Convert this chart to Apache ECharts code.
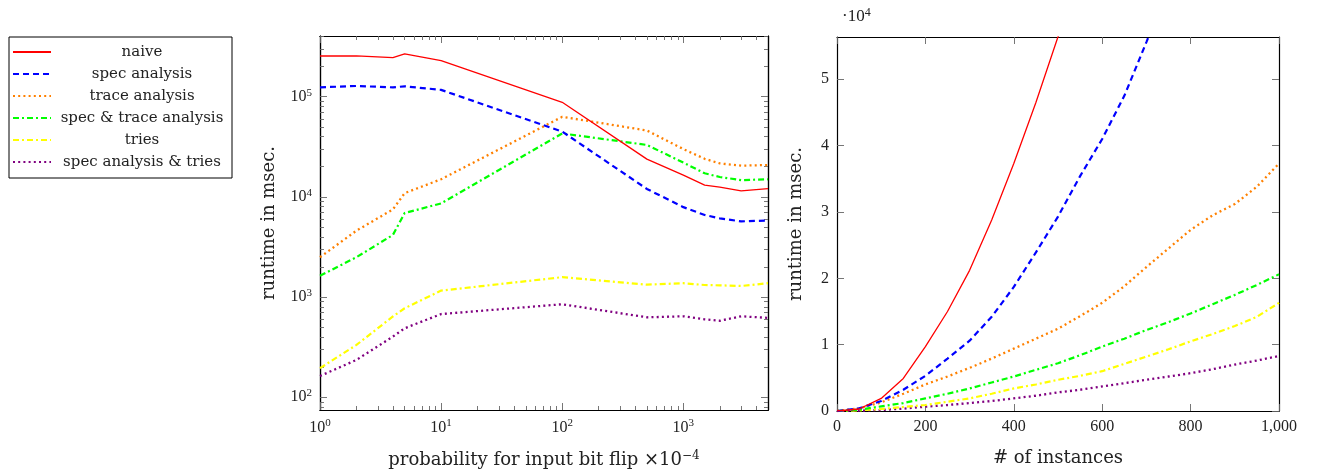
<!DOCTYPE html>
<html><head><meta charset="utf-8">
<script src="https://cdn.jsdelivr.net/npm/echarts@6/dist/echarts.min.js"></script>
<style>html,body{margin:0;padding:0;background:#fff}#c{width:1318px;height:472px}</style>
</head><body><div id="c"></div>
<script>
// ---- data ----
const seriesNames = ['naive', 'spec analysis', 'trace analysis', 'spec & trace analysis', 'tries', 'spec analysis & tries'];

// left chart: runtime vs probability for input bit flip (x 10^-4), log-log
const flipProb       = [1, 2, 4, 5, 10, 100, 500, 1000, 1500, 2000, 3000, 5000];
const flipNaive      = [255000, 256000, 245000, 267000, 229000, 88000, 23800, 16500, 13100, 12500, 11500, 12100];
const flipSpec       = [124000, 128000, 124000, 127000, 117000, 44800, 12000, 7900, 6600, 6100, 5700, 5800];
const flipTrace      = [2500, 4600, 7500, 10900, 15000, 63000, 46000, 30000, 24000, 21600, 20500, 20800];
const flipSpecTrace  = [1630, 2500, 4170, 6900, 8600, 43000, 33000, 22000, 17200, 15800, 14700, 15000];
const flipTries      = [195, 333, 640, 773, 1160, 1580, 1330, 1375, 1320, 1310, 1290, 1375];
const flipSpecTries  = [163, 236, 403, 488, 677, 848, 628, 643, 600, 580, 643, 620];

// right chart: runtime vs number of instances
const instances      = [0, 50, 100, 150, 200, 250, 300, 350, 400, 450, 500, 550, 600, 650, 700, 750, 800, 850, 900, 950, 1000];
const instNaive      = [0, 300, 1900, 4900, 9700, 15000, 21200, 28800, 37300, 46500, 56400, 67000, null, null, null, null, null, null, null, null, null];
const instSpec       = [0, 400, 1500, 3200, 5300, 7900, 10600, 14200, 18700, 23900, 29300, 35400, 41000, 47500, 55600, 64000, null, null, null, null, null];
const instTrace      = [0, 400, 1300, 2600, 4000, 5200, 6500, 7900, 9400, 10900, 12400, 14300, 16300, 18800, 21700, 24500, 27300, 29500, 31200, 33800, 37300];
const instSpecTrace  = [0, 200, 700, 1200, 1900, 2600, 3400, 4300, 5200, 6200, 7200, 8400, 9700, 10900, 12200, 13400, 14700, 16100, 17500, 19000, 20600];
const instTries      = [0, 100, 300, 600, 900, 1400, 1900, 2600, 3400, 4000, 4700, 5300, 6000, 7100, 8200, 9300, 10500, 11600, 12800, 14200, 16300];
const instSpecTries  = [0, 50, 150, 350, 650, 900, 1200, 1500, 1900, 2300, 2800, 3200, 3700, 4200, 4700, 5200, 5700, 6300, 7000, 7600, 8300];

// tick labels
const flipXMajor = [1, 10, 100, 1000];
const flipYMajor = [100, 1000, 10000, 100000];
const instXTicks = [0, 200, 400, 600, 800, 1000];
const instYTicks = [0, 10000, 20000, 30000, 40000, 50000];

// ---- styles ----
const FONT = 'Liberation Serif';
const TFONT = 'DejaVu Serif';
const colors = ['#ff0000', '#0000ff', '#ff8000', '#00ff00', '#ffff00', '#800080'];
const lineTypes = [
  {width: 1.3, type: 'solid'},
  {width: 2.2, type: [6, 4]},
  {width: 2.3, type: [2, 3.2]},
  {width: 2.2, type: [6, 3, 2, 3]},
  {width: 2.2, type: [6, 3, 2, 3]},
  {width: 2.3, type: [2, 3.2]}
];

function minorLog(lo, hi) {
  const out = [];
  for (let d = 1; d <= 1e6; d *= 10) for (let k = 2; k <= 9; k++) {
    const v = k * d; if (v > lo && v < hi) out.push(v);
  }
  return out;
}
const supRich = {s: {fontSize: 11, fontFamily: FONT, color: '#222', padding: [0, 0, 8, 0]}};
function pow10Label(v) { return '10{s|' + Math.round(Math.log10(v)) + '}'; }

const L = {xmin: 1, xmax: 5000, ymin: 74.6, ymax: 403600};
const R = {xmin: 0, xmax: 1000, ymin: 0, ymax: 56370};

const frame = {show: true, onZero: false, lineStyle: {color: '#000', width: 1.2}};
const tickCol = '#666';

function logAxis(gi, pos, min, max, values, len, withLabel, extra) {
  return Object.assign({
    type: 'log', logBase: 10, gridIndex: gi, position: pos, min: min, max: max,
    axisLine: frame,
    axisTick: {show: true, inside: true, length: len, customValues: values, lineStyle: {color: tickCol, width: 0.9}},
    axisLabel: withLabel ? {show: true, customValues: values, formatter: pow10Label, fontFamily: FONT, fontSize: 16, color: '#222', margin: 8, rich: supRich} : {show: false},
    splitLine: {show: false}, minorTick: {show: false}
  }, extra || {});
}
function valAxis(gi, pos, min, max, values, withLabel, fmt, extra) {
  return Object.assign({
    type: 'value', gridIndex: gi, position: pos, min: min, max: max,
    axisLine: frame,
    axisTick: {show: true, inside: true, length: 7, customValues: values, lineStyle: {color: tickCol, width: 0.9}},
    axisLabel: withLabel ? {show: true, customValues: values, formatter: fmt, fontFamily: FONT, fontSize: 16, color: '#222', margin: 8} : {show: false},
    splitLine: {show: false}
  }, extra || {});
}

const xMinorL = minorLog(L.xmin, L.xmax);
const yMinorL = minorLog(L.ymin, L.ymax);

const nameStyle = {fontFamily: TFONT, fontSize: 18, color: '#222', rich: {s: {fontSize: 12, fontFamily: TFONT, color: '#222', padding: [0, 0, 9, 0]}}};

const xAxes = [
  logAxis(0, 'bottom', L.xmin, L.xmax, flipXMajor, 7, true, {name: 'probability for input bit flip ×10{s|−4}', nameLocation: 'middle', nameGap: 40, nameTextStyle: nameStyle}),
  logAxis(0, 'bottom', L.xmin, L.xmax, xMinorL, 4, false),
  logAxis(0, 'top', L.xmin, L.xmax, flipXMajor, 7, false),
  logAxis(0, 'top', L.xmin, L.xmax, xMinorL, 4, false),
  valAxis(1, 'bottom', R.xmin, R.xmax, instXTicks, true, v => v.toLocaleString('en-US'), {name: '# of instances', nameLocation: 'middle', nameGap: 38, nameTextStyle: nameStyle}),
  valAxis(1, 'top', R.xmin, R.xmax, instXTicks, false)
];
const yAxes = [
  logAxis(0, 'left', L.ymin, L.ymax, flipYMajor, 7, true, {name: 'runtime in msec.', nameLocation: 'middle', nameGap: 42, nameTextStyle: nameStyle}),
  logAxis(0, 'left', L.ymin, L.ymax, yMinorL, 4, false),
  logAxis(0, 'right', L.ymin, L.ymax, flipYMajor, 7, false),
  logAxis(0, 'right', L.ymin, L.ymax, yMinorL, 4, false),
  valAxis(1, 'left', R.ymin, R.ymax, instYTicks, true, v => String(v / 10000), {name: 'runtime in msec.', nameLocation: 'middle', nameGap: 32, nameTextStyle: nameStyle}),
  valAxis(1, 'right', R.ymin, R.ymax, instYTicks, false)
];

const leftData = [flipNaive, flipSpec, flipTrace, flipSpecTrace, flipTries, flipSpecTries];
const rightData = [instNaive, instSpec, instTrace, instSpecTrace, instTries, instSpecTries];

const series = [];
seriesNames.forEach((n, i) => {
  series.push({
    name: n, type: 'line', xAxisIndex: 0, yAxisIndex: 0, symbol: 'none', showSymbol: false, clip: true,
    color: colors[i], lineStyle: Object.assign({color: colors[i]}, lineTypes[i]),
    data: flipProb.map((x, j) => [x, leftData[i][j]]), z: 10 - i
  });
});
seriesNames.forEach((n, i) => {
  series.push({
    name: n, type: 'line', xAxisIndex: 4, yAxisIndex: 4, symbol: 'none', showSymbol: false, clip: true, connectNulls: false,
    color: colors[i], lineStyle: Object.assign({color: colors[i]}, lineTypes[i]),
    data: instances.map((x, j) => [x, rightData[i][j]]), z: 10 - i
  });
});

const chart = echarts.init(document.getElementById('c'), null, {renderer: 'canvas'});
chart.setOption({
  animation: false,
  backgroundColor: '#fff',
  grid: [
    {left: 320, right: 550, top: 36, bottom: 62, outerBoundsMode: 'none', containLabel: false},
    {left: 837, right: 39, top: 37, bottom: 61, outerBoundsMode: 'none', containLabel: false}
  ],
  xAxis: xAxes,
  yAxis: yAxes,
  legend: {
    data: seriesNames, orient: 'vertical', left: 9, top: 37,
    itemWidth: 38, itemHeight: 14, itemGap: 6, padding: [7, 4, 8, 3],
    borderColor: '#000', borderWidth: 1, borderRadius: 0, backgroundColor: '#fff',
    itemStyle: {opacity: 0, borderWidth: 0},
    formatter: n => '{c|' + n + '}',
    textStyle: {fontFamily: TFONT, fontSize: 15, color: '#222', lineHeight: 16,
      rich: {c: {width: 172, align: 'center', fontFamily: TFONT, fontSize: 15, lineHeight: 16, color: '#222'}}},
    selectedMode: false
  },
  graphic: [{
    type: 'text', left: 842, top: 7,
    style: {text: '·10{s|4}', font: '17px "' + FONT + '"', fill: '#222',
      rich: {s: {fontSize: 12, fontFamily: FONT, fill: '#222', padding: [0, 0, 8, 0]}}}
  }],
  series: series
});
</script>
</body></html>
